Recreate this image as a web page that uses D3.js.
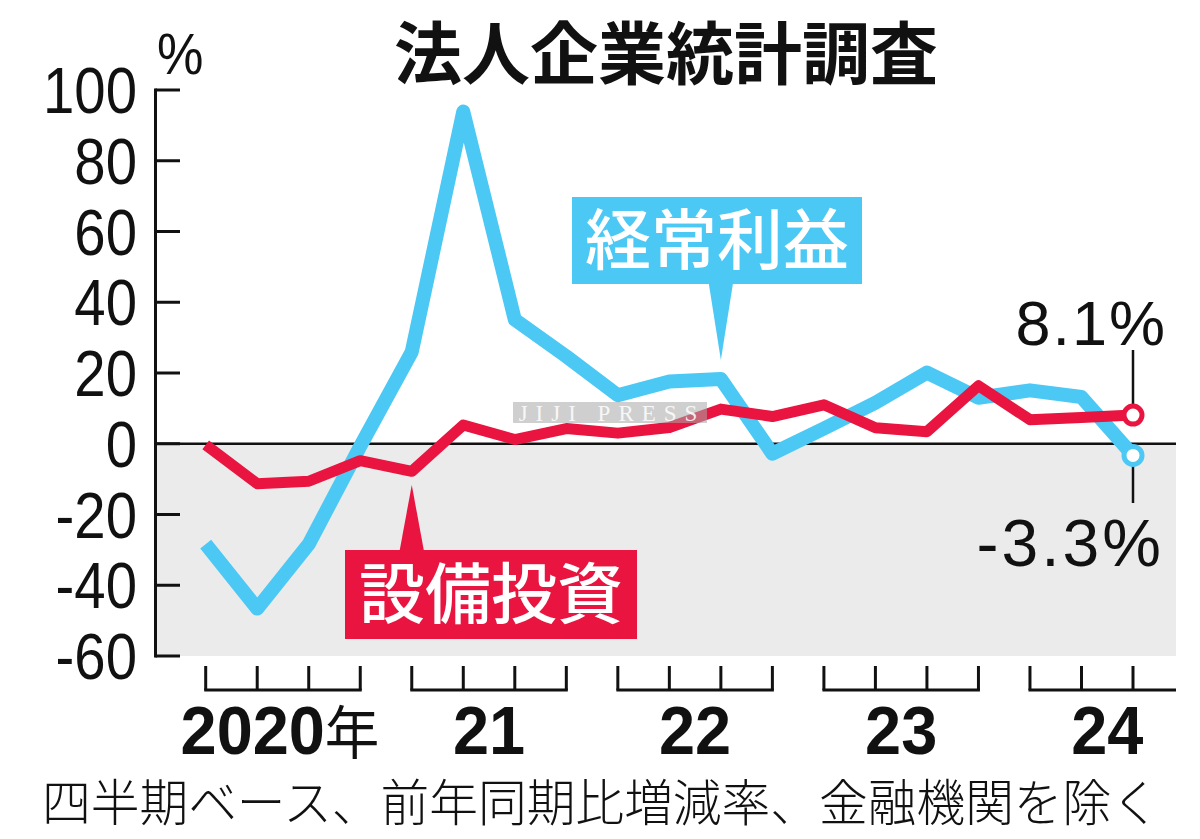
<!DOCTYPE html>
<html lang="ja">
<head>
  <meta charset="utf-8">
  <title>法人企業統計調査</title>
  <script src="https://d3js.org/d3.v7.min.js"></script>
</head>
<style>
body { margin: 0; background: #fff; }
.num { font-family: "Liberation Sans", Arial, sans-serif; fill: #111; }
.jp { font-family: "Noto Sans CJK JP", sans-serif; }
.title { font-size: 68px; font-weight: bold; fill: #111; }
.tag { font-size: 66px; font-weight: 500; fill: #fff; }
.note { font-size: 50px; font-weight: 300; fill: #111; }
.axis-line { stroke: #111; stroke-width: 3; fill: none; }
</style>
<body>
<div class="chart"></div>
<script>
// quarterly, year-on-year change (%)
var quarters = ["2020Q1","2020Q2","2020Q3","2020Q4","2021Q1","2021Q2","2021Q3","2021Q4",
  "2022Q1","2022Q2","2022Q3","2022Q4","2023Q1","2023Q2","2023Q3","2023Q4",
  "2024Q1","2024Q2","2024Q3"];
// 経常利益
var profit = [-28.4, -46.6, -28.4, -0.7, 26.0, 93.9, 35.1, 24.7,
  13.7, 17.6, 18.3, -2.8, 4.3, 11.6, 20.1, 13.0, 15.1, 13.2, -3.3];
// 設備投資
var capex = [-0.3, -11.3, -10.6, -4.8, -7.8, 5.3, 1.2, 4.3,
  3.0, 4.6, 9.8, 7.7, 11.0, 4.5, 3.4, 16.4, 6.8, 7.4, 8.1];
var yTicks = [100, 80, 60, 40, 20, 0, -20, -40, -60];
var years = ["2020", "21", "22", "23", "24"];

var width = 1200, height = 839;
var blue = "#4cc8f5", red = "#e9143f";

var svg = d3.select(".chart").append("svg")
  .attr("width", width).attr("height", height);

var x = d3.scaleLinear().domain([0, quarters.length - 1]).range([205.7, 1133]);
var y = d3.scaleLinear().domain([-60, 100]).range([656, 90]);
var left = 155.5, right = 1176;

// title
svg.append("text").attr("class", "jp title")
  .attr("x", 666).attr("y", 79).attr("text-anchor", "middle")
  .text("法人企業統計調査");

// negative zone
svg.append("rect")
  .attr("x", left).attr("y", y(0))
  .attr("width", right - left).attr("height", y(-60) - y(0))
  .attr("fill", "#ebebeb");

// zero line
svg.append("line").attr("class", "axis-line")
  .attr("x1", left).attr("x2", right)
  .attr("y1", y(0)).attr("y2", y(0))
  .style("stroke-width", 2.5);

// y axis
svg.append("line").attr("class", "axis-line")
  .attr("x1", left).attr("x2", left)
  .attr("y1", y(100) - 1.5).attr("y2", y(-60) + 1.5);
svg.selectAll(".ytick").data(yTicks).enter()
  .append("line").attr("class", "axis-line ytick")
  .attr("x1", left).attr("x2", 180)
  .attr("y1", function(d){ return y(d); })
  .attr("y2", function(d){ return y(d); });
svg.selectAll(".ylabel").data(yTicks).enter()
  .append("text").attr("class", "num ylabel")
  .attr("transform", function(d){ return "translate(137," + (y(d) + 23) + ") scale(0.88,1)"; })
  .attr("text-anchor", "end")
  .style("font-size", "64px")
  .text(function(d){ return d; });
svg.append("text").attr("class", "num")
  .attr("transform", "translate(157,74) scale(0.9,1)")
  .style("font-size", "58px")
  .text("%");

// quarter brackets
var yb0 = 666, yb1 = 690;
years.forEach(function(yr, k) {
  var first = x(k * 4);
  var last = Math.min(x(k * 4 + 3), right);
  var g = svg.append("g");
  g.append("line").attr("class", "axis-line")
    .attr("x1", first - 1.5).attr("x2", last + (last === right ? 0 : 1.5))
    .attr("y1", yb1).attr("y2", yb1);
  for (var q = 0; q < 4; q++) {
    var xi = x(k * 4 + q);
    if (xi > right) continue;
    g.append("line").attr("class", "axis-line")
      .attr("x1", xi).attr("x2", xi).attr("y1", yb0).attr("y2", yb1);
  }
  var t = g.append("text").attr("class", "num")
    .attr("transform", "translate(" + ((x(k * 4) + x(k * 4 + 3)) / 2 - (k === 0 ? 3 : 0)) + ",754) scale(0.94,1)")
    .attr("text-anchor", "middle")
    .style("font-size", "69px").style("font-weight", "bold");
  t.append("tspan").text(yr);
  if (k === 0) {
    t.append("tspan").attr("class", "jp").style("font-weight", "normal")
      .style("font-size", "58px").text("年");
  }
});

// lines
var line = d3.line()
  .x(function(d, i){ return x(i); })
  .y(function(d){ return y(d); });

svg.append("path").datum(profit)
  .attr("d", line).attr("fill", "none")
  .attr("stroke", blue).attr("stroke-width", 14)
  .attr("stroke-linejoin", "round");
svg.append("path").datum(capex)
  .attr("d", line).attr("fill", "none")
  .attr("stroke", red).attr("stroke-width", 11)
  .attr("stroke-linejoin", "round");

// watermark
svg.append("rect").attr("x", 513).attr("y", 402).attr("width", 194).attr("height", 21)
  .attr("fill", "#a8a8a8").attr("opacity", 0.55);
svg.append("text").attr("x", 612).attr("y", 421).attr("text-anchor", "middle")
  .style("font-family", "'Liberation Serif', serif").style("font-size", "23px")
  .style("letter-spacing", "8px").attr("fill", "#fff").attr("opacity", 0.85)
  .text("JIJI PRESS");

// latest values
var last = quarters.length - 1;
var xl = x(last);
svg.append("line").attr("class", "axis-line").style("stroke-width", 2.5)
  .attr("x1", xl).attr("x2", xl).attr("y1", 350).attr("y2", y(capex[last]));
svg.append("line").attr("class", "axis-line").style("stroke-width", 2.5)
  .attr("x1", xl).attr("x2", xl).attr("y1", y(profit[last])).attr("y2", 503);
[[capex, red], [profit, blue]].forEach(function(s) {
  svg.append("circle")
    .attr("cx", xl).attr("cy", y(s[0][last])).attr("r", 9)
    .attr("fill", "#fff").attr("stroke", s[1]).attr("stroke-width", 5);
});
svg.append("text").attr("class", "num")
  .attr("x", 1167).attr("y", 345).attr("text-anchor", "end")
  .style("font-size", "63px").style("letter-spacing", "2px")
  .text(capex[last].toFixed(1) + "%");
svg.append("text").attr("class", "num")
  .attr("x", 1164).attr("y", 566).attr("text-anchor", "end")
  .style("font-size", "66px").style("letter-spacing", "3px")
  .text(profit[last].toFixed(1) + "%");

// series tags
function tag(label, color, bx, by, bw, bh, px, tipY, up) {
  var g = svg.append("g");
  var baseY = up ? by : by + bh;
  g.append("path")
    .attr("d", "M" + (px - 12) + "," + baseY + "L" + px + "," + tipY + "L" + (px + 12) + "," + baseY + "Z")
    .attr("fill", color);
  g.append("rect").attr("x", bx).attr("y", by).attr("width", bw).attr("height", bh)
    .attr("fill", color);
  g.append("text").attr("class", "jp tag")
    .attr("x", bx + bw / 2).attr("y", by + bh / 2 + 23)
    .attr("text-anchor", "middle")
    .text(label);
}
tag("経常利益", blue, 572, 197, 290, 87, x(10), 360, false);
tag("設備投資", red, 345, 550, 292, 89, x(4), 485, true);

// note
svg.append("text").attr("class", "jp note")
  .attr("x", 42).attr("y", 821)
  .attr("textLength", 1118).attr("lengthAdjust", "spacingAndGlyphs")
  .text("四半期ベース、前年同期比増減率、金融機関を除く");
</script>
</body>
</html>
